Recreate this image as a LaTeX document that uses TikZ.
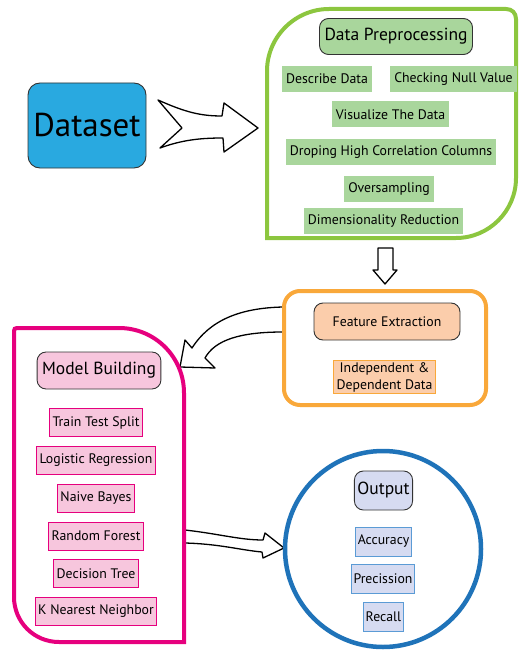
\documentclass[tikz,border=0pt]{standalone}
\usepackage{fontspec}
\setmainfont{PT Sans}
\usepackage{tikz}
\usetikzlibrary{positioning, calc}

\definecolor{framegreen}{HTML}{8CC63F}
\definecolor{boxgreen}{HTML}{A9D69C}
\definecolor{frameorange}{HTML}{F9A83A}
\definecolor{boxpeach}{HTML}{FBCDAB}
\definecolor{framepink}{HTML}{E6007E}
\definecolor{boxpink}{HTML}{F7C6DD}
\definecolor{circleblue}{HTML}{1F73B9}
\definecolor{boxblue}{HTML}{D6DBF1}
\definecolor{itemblue}{HTML}{5B9BD5}
\definecolor{dataset}{HTML}{29A9E0}

\begin{document}
\begin{tikzpicture}[x=1pt,y=-1pt,font=\fontsize{13.8}{15}\selectfont,
  titlebox/.style={draw=black!80,line width=0.9,rounded corners=9,
    minimum height=36,inner xsep=5,font=\fontsize{17.5}{19}\selectfont},
  greenitem/.style={fill=boxgreen,minimum height=26,inner xsep=4},
  peachitem/.style={fill=boxpeach,draw=frameorange,line width=0.8,inner xsep=3,
    inner ysep=2,align=center,font=\fontsize{13.8}{17}\selectfont},
  pinkitem/.style={fill=boxpink,draw=framepink,line width=0.8,minimum height=28,inner xsep=3},
  blueitem/.style={fill=boxblue,draw=itemblue,line width=0.8,minimum height=29,inner xsep=2},
  blockarrow/.style={draw=black,fill=white,line width=1.3,line join=round}]

\useasboundingbox (0,0) rectangle (519,650);

% --- Dataset
\node[draw=black!80,line width=0.9,fill=dataset,rounded corners=12,
  minimum width=118,minimum height=85,font=\fontsize{33}{36}\selectfont]
  (dataset) at (87,125.5) {Dataset};

% --- Freccia grande
\draw[blockarrow] (158,100) .. controls (185,112) and (200,116) .. (222,116)
  -- (224,103) -- (258,128) -- (224,152) -- (223,138)
  .. controls (200,138) and (182,140) .. (160,148) -- (182,128) -- cycle;

% --- Data Preprocessing
\draw[framegreen,line width=4] (267,238) -- (267,71)
  .. controls (267,37) and (295,9) .. (329,9) -- (506,9)
  .. controls (512,9) and (516,13) .. (516,19) -- (516,178)
  .. controls (516,211) and (489,238) .. (456,238) -- cycle;

\node[titlebox,fill=boxgreen] (prep) at (396,36.5) {Data Preprocessing};
\node[greenitem] (describe) at (327,79) {Describe Data};
\node[greenitem] (nullval) at (453.5,79) {Checking Null Value};
\node[greenitem] (visual) at (390.5,114.5) {Visualize The Data};
\node[greenitem] (corr) at (391,152) {Droping High Correlation Columns};
\node[greenitem] (oversamp) at (389,189) {Oversampling};
\node[greenitem] (dimred) at (383.5,221) {Dimensionality Reduction};

% --- Freccia in giu
\draw[blockarrow] (378,248) -- (393,248) -- (393,270) -- (397,270)
  -- (385,284) -- (373,270) -- (378,270) -- cycle;

% --- Feature Extraction
\draw[blockarrow] (283,307) .. controls (240,308) and (210,320) .. (192,348)
  -- (185,340) -- (180,367) -- (215,368) -- (205,358)
  .. controls (215,340) and (240,332) .. (283,332) -- cycle;
\draw[frameorange,line width=4,rounded corners=16] (284,291) rectangle (486,405);

\node[titlebox,fill=boxpeach,minimum width=146,minimum height=37,
  font=\fontsize{13.8}{15}\selectfont] (feature) at (387,321.5) {Feature Extraction};
\node[peachitem] (indep) at (384.5,377) {Independent \&\\Dependent Data};

% --- Model Building
\draw[blockarrow] (185,530) .. controls (220,534) and (240,540) .. (263,540)
  -- (265,533) -- (284,548) -- (263,558) -- (262,552)
  .. controls (240,550) and (220,544) .. (185,543) -- cycle;
\draw[framepink,line width=4] (14,597) -- (14,331)
  .. controls (14,329) and (15,328) .. (17,328) -- (119,328)
  .. controls (155,328) and (184,357) .. (184,393) -- (184,642) -- (59,642)
  .. controls (34,642) and (14,622) .. (14,597) -- cycle;

\node[titlebox,fill=boxpink,minimum height=37] (model) at (99,370.5) {Model Building};
\foreach \i/\lab in {1/Train Test Split,2/Logistic Regression,3/Naive Bayes,
  4/Random Forest,5/Decision Tree,6/K Nearest Neighbor}{
  \node[pinkitem] (algo\i) at (96,{422.5+37.8*(\i-1)}) {\lab};
}

% --- Output
\draw[circleblue,line width=4.5] (383,549) circle (98);
\node[titlebox,fill=boxblue,minimum height=39,inner xsep=3] (output) at (383.5,490.5) {Output};
\node[blueitem] (acc) at (383.5,541.5) {Accuracy};
\node[blueitem] (prec) at (383,578.5) {Precission};
\node[blueitem] (recall) at (383.5,616.5) {Recall};

\end{tikzpicture}
\end{document}
